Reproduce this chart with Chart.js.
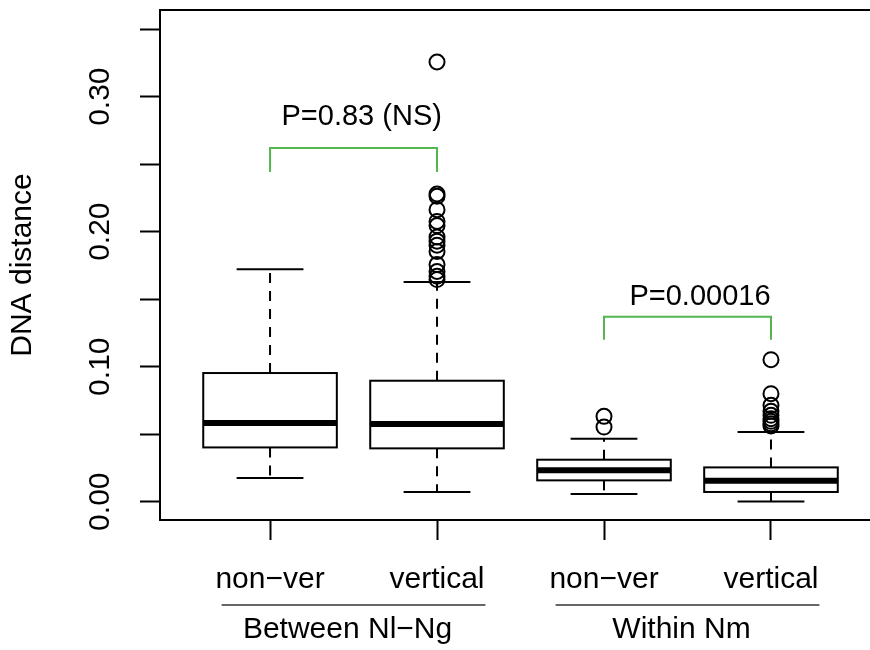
<!DOCTYPE html>
<html>
<head>
<meta charset="utf-8">
<script src="https://cdn.jsdelivr.net/npm/chart.js@4.4.0/dist/chart.umd.min.js"></script>
<style>
  body { margin: 0; background: #fff; }
  #wrap { width: 870px; height: 650px; }
</style>
</head>
<body>
<div id="wrap"><canvas id="grafico"></canvas></div>
<script>
// Categorias e grupos do eixo x
const categorias = ['non−ver', 'vertical', 'non−ver', 'vertical'];
const posicoes = [1, 2, 3, 4];
const grupos = ['Between Nl−Ng', 'Within Nm'];

// Estatisticas de cada caixa
const bigodeInf = [0.0175, 0.0072, 0.0057, 0.0002];
const q1 = [0.0402, 0.0395, 0.0158, 0.0072];
const mediana = [0.0583, 0.0575, 0.0232, 0.0156];
const q3 = [0.0953, 0.0896, 0.0311, 0.0254];
const bigodeSup = [0.1721, 0.1627, 0.0467, 0.0516];

// Pontos discrepantes de cada caixa
const outliers = [
    [],
    [0.3257, 0.2279, 0.2262, 0.2163, 0.2076, 0.2045, 0.1961, 0.1930, 0.1900, 0.1854, 0.1756, 0.1705, 0.1670, 0.1645],
    [0.0632, 0.0553],
    [0.1052, 0.0800, 0.0714, 0.0669, 0.0640, 0.0615, 0.0595, 0.0578, 0.0560]
];

// Comparacoes (colchetes verdes)
const comparacoes = [[1, 2], [3, 4]];
const textosP = ['P=0.83 (NS)', 'P=0.00016'];
const colchetePonta = [0.2442, 0.120];
const colcheteTopo = [0.262, 0.137];
const textoPy = [0.279, 0.1457];
const textoPx = [1.549, 3.575];

// Marcas do eixo y
const yTicks = [0, 0.05, 0.10, 0.15, 0.20, 0.25, 0.30, 0.35];
const rotulosY = ['0.00', '', '0.10', '', '0.20', '', '0.30', ''];

const fonte = "'Liberation Sans', Arial, Helvetica, sans-serif";
const verde = '#55b54f';

function linha(ctx, x1, y1, x2, y2) {
    ctx.beginPath();
    ctx.moveTo(x1, y1);
    ctx.lineTo(x2, y2);
    ctx.stroke();
}

// Desenha caixas, bigodes e medianas usando as escalas do grafico
const caixas = {
    id: 'caixas',
    beforeDatasetsDraw(chart) {
        const { ctx, scales: { x, y } } = chart;
        ctx.save();
        ctx.strokeStyle = '#000';
        posicoes.forEach((p, i) => {
            const xc = x.getPixelForValue(p);
            const xl = x.getPixelForValue(p - 0.4);
            const xr = x.getPixelForValue(p + 0.4);
            const cl = x.getPixelForValue(p - 0.2);
            const cr = x.getPixelForValue(p + 0.2);
            const yInf = y.getPixelForValue(bigodeInf[i]);
            const yQ1 = y.getPixelForValue(q1[i]);
            const yMed = y.getPixelForValue(mediana[i]);
            const yQ3 = y.getPixelForValue(q3[i]);
            const ySup = y.getPixelForValue(bigodeSup[i]);

            ctx.lineWidth = 2;
            ctx.setLineDash([10, 8]);
            linha(ctx, xc, yQ3, xc, ySup);
            linha(ctx, xc, yQ1, xc, yInf);
            ctx.setLineDash([]);
            linha(ctx, cl, ySup, cr, ySup);
            linha(ctx, cl, yInf, cr, yInf);

            ctx.fillStyle = '#fff';
            ctx.fillRect(xl, yQ3, xr - xl, yQ1 - yQ3);
            ctx.strokeRect(xl, yQ3, xr - xl, yQ1 - yQ3);

            ctx.lineWidth = 6;
            linha(ctx, xl, yMed, xr, yMed);
        });
        ctx.restore();
    },
    afterDraw(chart) {
        const { ctx, chartArea, scales: { x, y } } = chart;
        ctx.save();
        // borda superior da area do grafico
        ctx.strokeStyle = '#000';
        ctx.lineWidth = 2;
        linha(ctx, chartArea.left, chartArea.top, chartArea.right, chartArea.top);

        // textos dos valores de P
        ctx.fillStyle = '#000';
        ctx.font = '29px ' + fonte;
        ctx.textAlign = 'center';
        ctx.textBaseline = 'alphabetic';
        textosP.forEach((t, i) => {
            ctx.fillText(t, x.getPixelForValue(textoPx[i]), y.getPixelForValue(textoPy[i]));
        });

        // linhas e nomes dos grupos abaixo do eixo
        ctx.font = '30px ' + fonte;
        comparacoes.forEach((par, i) => {
            const centro = (par[0] + par[1]) / 2;
            ctx.strokeStyle = '#666';
            ctx.lineWidth = 2;
            linha(ctx, x.getPixelForValue(centro - 0.79), chartArea.bottom + 85,
                x.getPixelForValue(centro + 0.79), chartArea.bottom + 85);
            ctx.fillText(grupos[i], x.getPixelForValue(centro) - 6, chartArea.bottom + 118);
        });
        ctx.restore();
    }
};

// Pontos discrepantes como dataset de dispersao
const pontosOutliers = [];
outliers.forEach((lista, i) => {
    lista.forEach(v => pontosOutliers.push({ x: posicoes[i], y: v }));
});

// Colchetes verdes como linhas
const colchetes = comparacoes.map((par, i) => ({
    data: [
        { x: par[0], y: colchetePonta[i] },
        { x: par[0], y: colcheteTopo[i] },
        { x: par[1], y: colcheteTopo[i] },
        { x: par[1], y: colchetePonta[i] }
    ],
    showLine: true,
    borderColor: verde,
    borderWidth: 2,
    pointRadius: 0,
    tension: 0
}));

// Zera o espaco extra que o Chart.js reserva para os rotulos
function semPadding(eixo) {
    eixo.paddingTop = 0;
    eixo.paddingBottom = 0;
    eixo.paddingLeft = 0;
    eixo.paddingRight = 0;
}

new Chart(document.getElementById('grafico'), {
    type: 'scatter',
    data: {
        datasets: [{
            data: pontosOutliers,
            pointStyle: 'circle',
            pointRadius: 7.5,
            borderWidth: 2,
            borderColor: '#000',
            backgroundColor: 'rgba(0,0,0,0)'
        }, ...colchetes]
    },
    options: {
        responsive: true,
        maintainAspectRatio: false,
        animation: false,
        layout: { autoPadding: false, padding: { top: 10, right: 0, left: 0, bottom: 0 } },
        plugins: { legend: { display: false }, tooltip: { enabled: false } },
        scales: {
            x: {
                type: 'linear',
                min: 0.341,
                max: 4.593,
                afterBuildTicks: eixo => { eixo.ticks = posicoes.map(v => ({ value: v })); },
                afterFit: eixo => { eixo.height = 130; semPadding(eixo); },
                ticks: {
                    callback: (v, i) => categorias[i],
                    font: { family: fonte, size: 30 },
                    color: '#000',
                    padding: 22,
                    maxRotation: 0,
                    autoSkip: false
                },
                grid: { drawOnChartArea: false, tickLength: 20, tickWidth: 2, tickColor: '#000' },
                border: { color: '#000', width: 2 }
            },
            y: {
                type: 'linear',
                min: -0.01356,
                max: 0.3642,
                afterBuildTicks: eixo => { eixo.ticks = yTicks.map(v => ({ value: v })); },
                afterFit: eixo => { eixo.width = 160; semPadding(eixo); },
                ticks: {
                    callback: (v, i) => rotulosY[i],
                    font: { family: fonte, size: 30 },
                    color: '#000',
                    minRotation: 90,
                    maxRotation: 90,
                    crossAlign: 'center',
                    padding: 10,
                    autoSkip: false
                },
                grid: { drawOnChartArea: false, tickLength: 20, tickWidth: 2, tickColor: '#000' },
                border: { color: '#000', width: 2 },
                title: {
                    display: true,
                    text: 'DNA distance',
                    font: { family: fonte, size: 30 },
                    color: '#000',
                    padding: { top: 5, bottom: 0 }
                }
            }
        }
    },
    plugins: [caixas]
});
</script>
</body>
</html>
